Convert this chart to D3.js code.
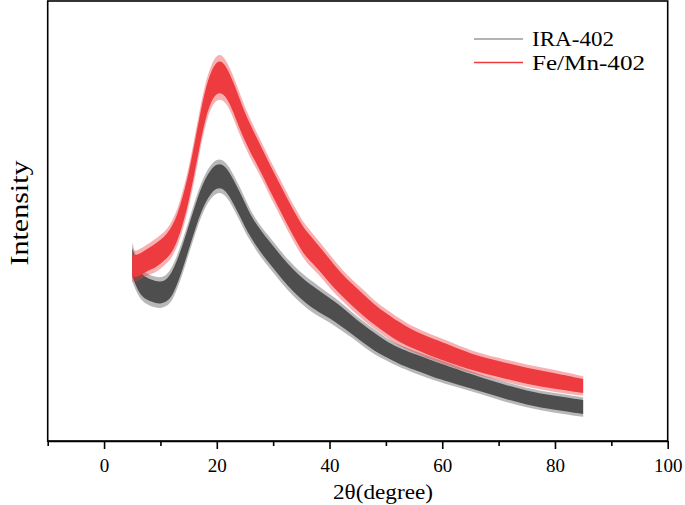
<!DOCTYPE html>
<html>
<head>
<meta charset="utf-8">
<script src="https://cdn.jsdelivr.net/npm/d3@7"></script>
<style>
  html, body { margin: 0; padding: 0; background: #fff; }
  svg { display: block; }
  text { font-family: "Liberation Serif", "Times New Roman", serif; fill: #000; }
</style>
</head>
<body>
<svg id="chart" width="685" height="505"></svg>
<script>
// ---- data (intensity in a.u.) ----
const twoTheta = [5,6,7,8,9,10,11,12,13,14,15,16,17,18,19,20,21,22,23,24,25,26,27,28,29,30,31,32,33,34,35,36,38,40,42,44,46,48,50,52,55,58,60,65,70,75,80,85];
const iraIntensity = [179,161,154,151,149,148,150,156,169,185,203,221,238,251,260,265,265,259,249,238,226,215,206,198,191,184,177,170,164,158,153,148,140,133,125,116,107,99,92,86,79,73,69,60,51,43,38,34];
const iraNoise = [14,11,11,11,11,11,11,12,12,12,12,12,12,12,12,12,12,12,12,12,12,11,11,11,11,11,11,11,11,11,11,11,11,10,10,9,9,9,8,8,8,8,8,7,7,7,7,7];
const feMnIntensity = [175,175,179,182,185,189,194,201,213,231,253,281,311,338,355,364,364,356,343,328,314,302,291,280,268,257,246,235,224,214,204,196,184,170,157,146,136,126,118,110,101,94,90,79,72,65,60,55];
const feMnNoise = [11,11,11,11,12,12,12,13,13,14,14,15,15,15,15,16,16,15,15,15,14,14,13,13,13,13,13,13,13,13,13,13,12,12,11,11,11,10,10,10,9,9,9,8,8,8,8,7];
const seriesNames = ["IRA-402", "Fe/Mn-402"];
const majorTicks = [0, 20, 40, 60, 80, 100];
const minorTicks = [-10, 10, 30, 50, 70, 90];
const xLabel = "2θ(degree)";
const yLabel = "Intensity";

// ---- layout ----
const L = 47.7, R = 667.7, T = 1, B = 441;
const svg = d3.select("#chart");
const x = d3.scaleLinear().domain([-10, 100]).range([L, R]);
const y = d3.scaleLinear().domain([0, 440]).range([B, T]);

function band(vals, noise) {
  return twoTheta.map((t, i) => ({ t, v: vals[i], n: noise[i] }));
}
function areaGen(k) {
  return d3.area()
    .x(d => x(d.t))
    .y0(d => y(d.v - d.n * k))
    .y1(d => y(d.v + d.n * k))
    .curve(d3.curveBasis);
}

const series = [
  { name: seriesNames[0], data: band(iraIntensity, iraNoise), color: "#4e4e4e", legend: "#9a9a9a" },
  { name: seriesNames[1], data: band(feMnIntensity, feMnNoise), color: "#ee3b3f", legend: "#ee3b3f" }
];

series.forEach(s => {
  // outer fringe (noise spikes), then solid core
  svg.append("path").datum(s.data)
    .attr("d", areaGen(1.4))
    .attr("fill", s.color)
    .attr("fill-opacity", 0.4);
  svg.append("path").datum(s.data)
    .attr("d", areaGen(1))
    .attr("fill", s.color);
});

// frame
svg.append("rect")
  .attr("x", L).attr("y", T).attr("width", R - L).attr("height", B - T)
  .attr("fill", "none").attr("stroke", "#000").attr("stroke-width", 1.6);

// bottom axis
const ax = svg.append("g").attr("transform", `translate(0,${B})`)
  .call(d3.axisBottom(x).tickValues(majorTicks).tickSize(8).tickSizeOuter(0).tickFormat(d3.format("d")));
ax.select(".domain").attr("stroke", "#000").attr("stroke-width", 1.6);
ax.selectAll(".tick line").attr("stroke", "#000").attr("stroke-width", 1.6);
ax.selectAll(".tick text").attr("dy", null).attr("y", 31)
  .style("font-family", "'Liberation Serif', serif").style("font-size", "19px");
const ax2 = svg.append("g").attr("transform", `translate(0,${B})`)
  .call(d3.axisBottom(x).tickValues(minorTicks).tickSize(5).tickSizeOuter(0).tickFormat(""));
ax2.select(".domain").remove();
ax2.selectAll(".tick line").attr("stroke", "#000").attr("stroke-width", 1.6);

// axis titles
svg.append("text")
  .attr("x", 383).attr("y", 499)
  .attr("text-anchor", "middle")
  .attr("textLength", 100).attr("lengthAdjust", "spacingAndGlyphs")
  .style("font-size", "21px")
  .text(xLabel);
svg.append("text")
  .attr("transform", "translate(28,213) rotate(-90)")
  .attr("text-anchor", "middle")
  .attr("textLength", 105).attr("lengthAdjust", "spacingAndGlyphs")
  .style("font-size", "26px")
  .text(yLabel);

// legend
const lg = svg.append("g");
series.forEach((s, i) => {
  const yy = 39 + i * 23.5;
  lg.append("line").attr("x1", 474).attr("x2", 523).attr("y1", yy).attr("y2", yy)
    .attr("stroke", s.legend).attr("stroke-width", 1.3);
  lg.append("text").attr("x", 532).attr("y", yy + 7)
    .attr("textLength", i === 0 ? 82 : 113).attr("lengthAdjust", "spacingAndGlyphs")
    .style("font-size", "21px").text(s.name);
});
</script>
</body>
</html>
